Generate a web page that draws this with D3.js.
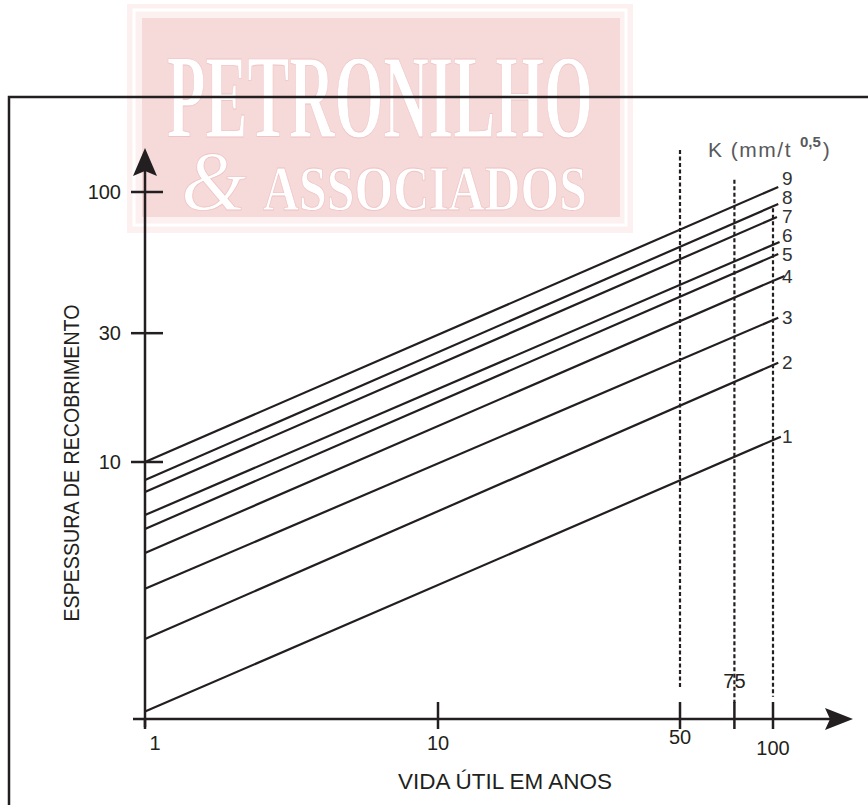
<!DOCTYPE html>
<html>
<head>
<meta charset="utf-8">
<script src="https://cdnjs.cloudflare.com/ajax/libs/d3/7.8.5/d3.min.js"></script>
<style>
  html, body { margin: 0; padding: 0; background: #fff; }
  svg { display: block; font-family: "Liberation Sans", Arial, sans-serif; }
</style>
</head>
<body>
<svg id="chart"></svg>
<script>
// ─── Data ─────────────────────────────────────────────────────────────────────
const kValues        = [1, 2, 3, 4, 5, 6, 7, 8, 9];
// Thickness where each K line leaves the y axis (t = 1 year).
const startThickness = [1.19, 2.21, 3.39, 4.6, 5.65, 6.36, 7.74, 8.58, 10.0];
// Where each line stops on the right (years, thickness).
const endYears       = [106, 104, 104, 109, 104, 105, 103, 104, 104];
const endThickness   = [12.4, 23.3, 34.2, 48.9, 58.9, 65.3, 80.8, 90.3, 104.4];

const xTicks = [1, 10, 50, 75, 100];
const yTicks = [10, 30, 100];

// Dotted reference verticals (year, top thickness, bottom thickness).
const refYears  = [50, 75, 100];
const refTop    = [143, 111, 87];
const refBottom = [1.45, 1.28, 1.35];

const xTitle = "VIDA ÚTIL EM ANOS";
const yTitle = "ESPESSURA DE RECOBRIMENTO";

// ─── Configuration ────────────────────────────────────────────────────────────
const CONFIG = {
  width: 868,
  height: 805,
  ink: "#231f20",
  grey: "#58595b",
  axisY: 719,
  axisX: 145,
  labelGap: 19
};

// ─── Scales (hand-drawn log paper, so x is piecewise log) ─────────────────────
const x = d3.scaleLog().domain([1, 10, 50, 100]).range([145, 438, 680, 773]);
const y = d3.scaleLog().domain([1, 100]).range([732, 192]);

const svg = d3.select("#chart")
  .attr("width", CONFIG.width)
  .attr("height", CONFIG.height);

svg.append("rect").attr("width", CONFIG.width).attr("height", CONFIG.height).attr("fill", "#fff");

// ─── Watermark ────────────────────────────────────────────────────────────────
const wm = svg.append("g").attr("class", "watermark");
wm.append("rect").attr("x", 127).attr("y", 4).attr("width", 506).attr("height", 229).attr("fill", "#fdf0f0");
wm.append("rect").attr("x", 134).attr("y", 10).attr("width", 492).attr("height", 215)
  .attr("fill", "none").attr("stroke", "#fff").attr("stroke-width", 3);
wm.append("rect").attr("x", 142).attr("y", 18).attr("width", 478).attr("height", 199).attr("fill", "#f6d9d9");
const wmText = (txt, xPos, yPos, size, len, italic) => {
  const t = wm.append("text")
    .attr("x", xPos).attr("y", yPos)
    .attr("font-family", "'Liberation Serif', 'DejaVu Serif', serif")
    .attr("font-size", size)
    .attr("font-weight", "bold")
    .attr("fill", "#fff")
    .attr("stroke", "#efc4c4").attr("stroke-width", 0.8)
    .text(txt);
  if (len) t.attr("textLength", len).attr("lengthAdjust", "spacingAndGlyphs");
  if (italic) t.attr("font-style", "italic").attr("font-weight", "normal");
};
wmText("PETRONILHO", 167, 137, 118, 426);
wmText("&", 181, 210, 84, null, true);
wmText("ASSOCIADOS", 263, 210, 64, 324);

// ─── Frame ────────────────────────────────────────────────────────────────────
svg.append("path")
  .attr("d", "M868,97 L9,97 L9,805")
  .attr("fill", "none")
  .attr("stroke", CONFIG.ink)
  .attr("stroke-width", 2.5);

// ─── Dotted reference lines ───────────────────────────────────────────────────
svg.append("g").selectAll("line")
  .data(refYears)
  .join("line")
  .attr("x1", (d) => x(d)).attr("x2", (d) => x(d))
  .attr("y1", (d, i) => y(refTop[i]))
  .attr("y2", (d, i) => y(refBottom[i]))
  .attr("stroke", CONFIG.ink)
  .attr("stroke-width", 2.2)
  .attr("stroke-dasharray", "4,2.5");

// ─── K lines ──────────────────────────────────────────────────────────────────
const lineGen = d3.line().x((d) => x(d[0])).y((d) => y(d[1]));
const kLines = kValues.map((k, i) => ({
  k,
  pts: [[1, startThickness[i]], [endYears[i], endThickness[i]]]
}));

svg.append("g").selectAll("path")
  .data(kLines)
  .join("path")
  .attr("d", (d) => lineGen(d.pts))
  .attr("fill", "none")
  .attr("stroke", CONFIG.ink)
  .attr("stroke-width", 2.2);

// Labels sit at the line ends, nudged upward when they crowd each other.
const labelY = kLines.map((d) => y(d.pts[1][1]));
for (let i = 1; i < labelY.length; i++) {
  labelY[i] = Math.min(labelY[i], labelY[i - 1] - CONFIG.labelGap);
}

svg.append("g").selectAll("text")
  .data(kLines)
  .join("text")
  .attr("x", x(100) + 9)
  .attr("y", (d, i) => labelY[i])
  .attr("dy", "0.35em")
  .attr("font-size", 19)
  .attr("fill", "#333")
  .text((d) => d.k);

// ─── Axes ─────────────────────────────────────────────────────────────────────
const axes = svg.append("g").attr("stroke", CONFIG.ink).attr("stroke-width", 2.5);
// y axis + arrow
axes.append("line").attr("x1", CONFIG.axisX).attr("x2", CONFIG.axisX).attr("y1", 727).attr("y2", 170);
svg.append("path")
  .attr("d", `M${CONFIG.axisX},148 L${CONFIG.axisX - 12},176 L${CONFIG.axisX},171 L${CONFIG.axisX + 12},176 Z`)
  .attr("fill", CONFIG.ink);
// x axis + arrow
axes.append("line").attr("x1", 133).attr("x2", 830).attr("y1", CONFIG.axisY).attr("y2", CONFIG.axisY);
svg.append("path")
  .attr("d", `M853,${CONFIG.axisY} L825,${CONFIG.axisY - 11} L830,${CONFIG.axisY} L825,${CONFIG.axisY + 11} Z`)
  .attr("fill", CONFIG.ink);

// y ticks
axes.selectAll("line.ytick")
  .data(yTicks)
  .join("line")
  .attr("class", "ytick")
  .attr("x1", CONFIG.axisX - 14).attr("x2", CONFIG.axisX + 18)
  .attr("y1", (d) => y(d)).attr("y2", (d) => y(d));

svg.append("g").selectAll("text")
  .data(yTicks)
  .join("text")
  .attr("x", 121)
  .attr("y", (d) => y(d))
  .attr("dy", "0.35em")
  .attr("text-anchor", "end")
  .attr("font-size", 20)
  .attr("fill", CONFIG.ink)
  .text((d) => d);

// x ticks
axes.selectAll("line.xtick")
  .data(xTicks)
  .join("line")
  .attr("class", "xtick")
  .attr("x1", (d) => x(d)).attr("x2", (d) => x(d))
  .attr("y1", (d) => (d === 1 ? CONFIG.axisY : CONFIG.axisY - 17))
  .attr("y2", CONFIG.axisY + 10);

svg.append("g").selectAll("text")
  .data(xTicks)
  .join("text")
  .attr("x", (d) => (d === 1 ? x(d) + 10 : x(d)))
  .attr("y", (d) => (d === 75 ? 688 : d === 50 ? 744 : d === 100 ? 755 : 750))
  .attr("text-anchor", "middle")
  .attr("font-size", 20)
  .attr("fill", CONFIG.ink)
  .text((d) => d);

// ─── Titles ───────────────────────────────────────────────────────────────────
svg.append("text")
  .attr("x", 505).attr("y", 789)
  .attr("text-anchor", "middle")
  .attr("font-size", 22)
  .attr("textLength", 214).attr("lengthAdjust", "spacingAndGlyphs")
  .attr("fill", CONFIG.ink)
  .text(xTitle);

svg.append("text")
  .attr("transform", "translate(79,463) rotate(-90)")
  .attr("text-anchor", "middle")
  .attr("font-size", 22)
  .attr("textLength", 317).attr("lengthAdjust", "spacingAndGlyphs")
  .attr("fill", CONFIG.ink)
  .text(yTitle);

// K legend title, one text with a superscript exponent
const kTitle = svg.append("text")
  .attr("x", 708).attr("y", 157)
  .attr("font-size", 21)
  .attr("fill", CONFIG.grey);
kTitle.append("tspan").attr("letter-spacing", 1.5).text("K (mm/t");
kTitle.append("tspan").attr("dx", 8).attr("dy", -10).attr("font-size", 15).attr("font-weight", "bold").text("0,5");
kTitle.append("tspan").attr("dx", 2).attr("dy", 10).text(")");
</script>
</body>
</html>
